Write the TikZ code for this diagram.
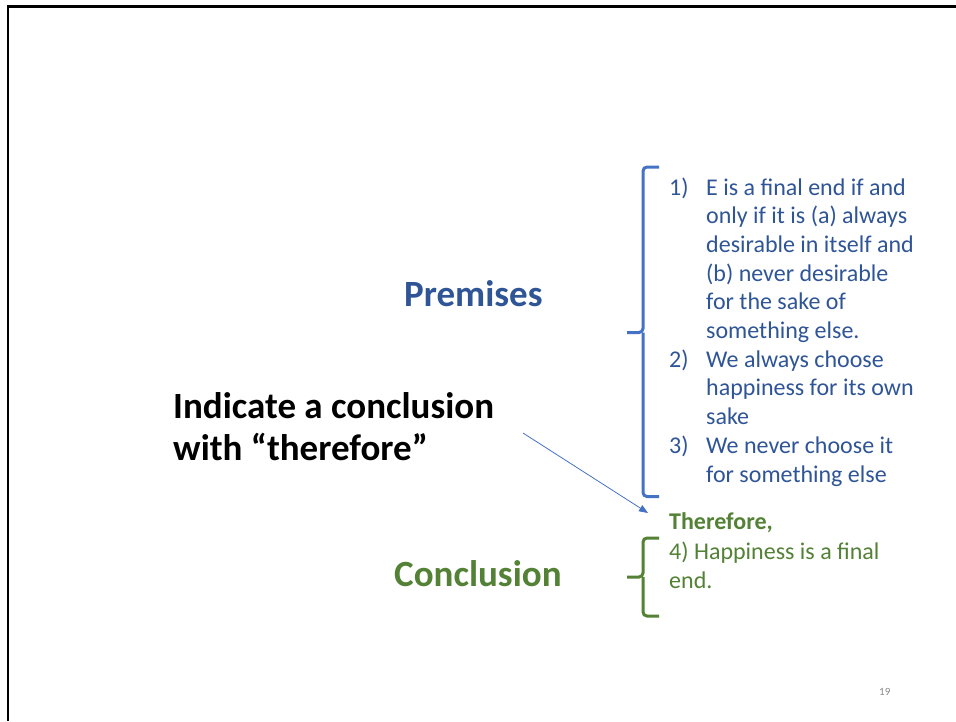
\documentclass[tikz,border=0pt]{standalone}
\usepackage{fontspec}
\setmainfont{Carlito}
\usetikzlibrary{arrows.meta}
\definecolor{dkblue}{HTML}{2F5597}
\definecolor{brblue}{HTML}{4472C4}
\definecolor{dkgreen}{HTML}{538135}
\definecolor{brgreen}{HTML}{548235}
\definecolor{pgnum}{HTML}{898989}
\tikzset{
  big/.style={anchor=base west, inner sep=0pt, font=\fontsize{37}{40}\selectfont\bfseries},
  item/.style={anchor=base west, inner sep=0pt, font=\fontsize{24}{28}\selectfont, text=dkblue},
  gitem/.style={anchor=base west, inner sep=0pt, font=\fontsize{24}{28}\selectfont, text=dkgreen},
  brace/.style={line width=3pt, rounded corners=4pt, line cap=butt},
}
\begin{document}
\begin{tikzpicture}[x=1pt,y=-1pt]
\useasboundingbox (0,0) rectangle (956,721);
\fill[white] (0,0) rectangle (956,721);
% slide border
\draw[line width=2.5pt, black] (8,721) -- (8,6.5) -- (956,6.5);

% titles
\node[big, text=dkblue] (prem) at (404,306) {Premises};
\node[big, text=dkgreen] (concl) at (394,586) {Conclusion};
\node[big, text=black] (ind1) at (173,418) {Indicate a conclusion};
\node[big, text=black] (ind2) at (173,460) {with “therefore”};

% premises list
\node[item] (n1) at (669,195) {1)};
\node[item] (l1) at (706,195) {E is a final end if and};
\node[item] (l2) at (706,223.7) {only if it is (a) always};
\node[item] (l3) at (706,252.4) {desirable in itself and};
\node[item] (l4) at (706,281.1) {(b) never desirable};
\node[item] (l5) at (706,309.8) {for the sake of};
\node[item] (l6) at (706,338.5) {something else.};
\node[item] (n2) at (669,367.2) {2)};
\node[item] (l7) at (706,367.2) {We always choose};
\node[item] (l8) at (706,395.9) {happiness for its own};
\node[item] (l9) at (706,424.6) {sake};
\node[item] (n3) at (669,453.3) {3)};
\node[item] (l10) at (706,453.3) {We never choose it};
\node[item] (l11) at (706,482) {for something else};

% conclusion text
\node[gitem, font=\fontsize{24}{28}\selectfont\bfseries] (ther) at (669,529) {Therefore,};
\node[gitem] (c1) at (669,559.5) {4) Happiness is a final};
\node[gitem] (c2) at (669,588.5) {end.};

% blue brace
\coordinate (bt) at (659,167);
\coordinate (bb) at (659,496.5);
\coordinate (bm) at (627,332.5);
\draw[brace, brblue] (bt) -- (643,167) -- (643,332.5) -- (bm);
\draw[brace, brblue] (bb) -- (643,496.5) -- (643,332.5);

% green brace
\coordinate (gt) at (659,538);
\coordinate (gb) at (659,616);
\coordinate (gm) at (627,577);
\draw[brace, brgreen] (gt) -- (643,538) -- (643,577) -- (gm);
\draw[brace, brgreen] (gb) -- (643,616) -- (643,577);

% arrow
\coordinate (as) at (523,433);
\coordinate (ae) at (648,513);
\draw[brblue, line width=0.8pt, -{Triangle[length=9pt,width=7pt]}] (as) -- (ae);

% page number
\node[anchor=base west, inner sep=0pt, text=pgnum, font=\fontsize{11}{12}\selectfont] (pg) at (879,695) {19};
\end{tikzpicture}
\end{document}
